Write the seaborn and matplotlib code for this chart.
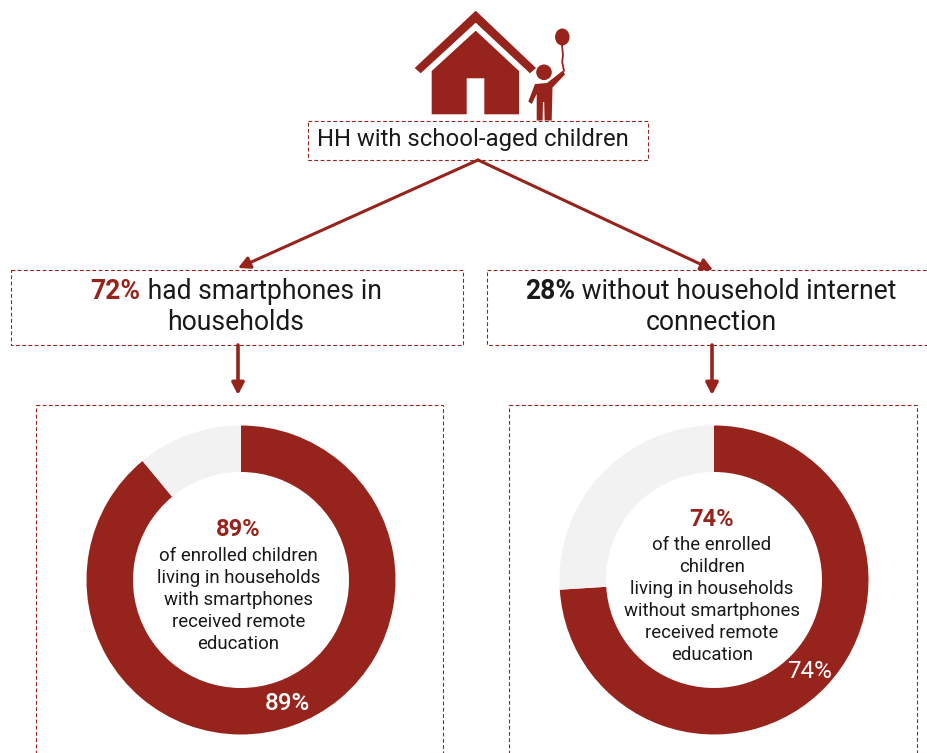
import matplotlib
matplotlib.use("Agg")
import matplotlib.pyplot as plt
from matplotlib.patches import Polygon, Circle, Ellipse, Rectangle, FancyArrowPatch
import seaborn as sns

# Survey figures
smartphone_share = 72
no_internet_share = 28
with_phone_remote = [89, 11]
without_phone_remote = [74, 26]

root_label = "HH with school-aged children"
left_branch = ["had smartphones in", "households"]
right_branch = ["without household internet", "connection"]
left_note = ["of enrolled children", "living in households", "with smartphones", "received remote", "education"]
right_note = ["of the enrolled", "children", "living in households", "without smartphones", "received remote", "education"]

sns.set_theme(style="white")
plt.rcParams["font.family"] = ["Roboto", "DejaVu Sans"]

RED = "#97241c"
GREY = "#f2f2f2"
INK = "#1a1a1a"
W, H = 927, 753
donut_colors = sns.color_palette([RED, GREY])

fig = plt.figure(figsize=(W / 100, H / 100), dpi=100, facecolor="white")


def donut(cx, cy, values):
    r = 154.5
    ax = fig.add_axes([(cx - r) / W, 1 - (cy + r) / H, 2 * r / W, 2 * r / H])
    ax.pie(values, colors=donut_colors, startangle=90, counterclock=False, radius=1,
           wedgeprops={"width": 46.5 / r, "linewidth": 0})
    ax.set_xlim(-1, 1)
    ax.set_ylim(-1, 1)
    ax.set_axis_off()


donut(241, 580, with_phone_remote)
donut(714, 580, without_phone_remote)

# Overlay in pixel units for boxes, arrows, icon and text
ov = fig.add_axes([0, 0, 1, 1], zorder=5)
ov.set_xlim(0, W)
ov.set_ylim(H, 0)
ov.set_axis_off()
ov.patch.set_alpha(0)


def dashed_box(x0, y0, x1, y1):
    ov.add_patch(Rectangle((x0, y0), x1 - x0, y1 - y0, fill=False, edgecolor=RED,
                           linewidth=0.8, linestyle=(0, (3.4, 2.2)), clip_on=True))


dashed_box(308, 120.5, 648, 160)
dashed_box(11, 270, 463, 344.5)
dashed_box(487, 270, 940, 344.5)
dashed_box(36, 405, 443, 770)
dashed_box(509, 405, 917, 770)


def arrow(p0, p1, width):
    ov.add_patch(FancyArrowPatch(p0, p1, arrowstyle="-|>,head_length=0.5,head_width=0.26",
                                 mutation_scale=14, color=RED, linewidth=width,
                                 shrinkA=0, shrinkB=0))


arrow((478, 160), (238, 268), 2.2)
arrow((478, 160), (713, 270), 2.2)
arrow((238, 345), (238, 395), 2.6)
arrow((712, 345), (712, 395), 2.6)

# House icon
ov.add_patch(Polygon([(475.7, 10.7), (536, 68), (530, 73.3), (475.7, 22.7), (420.7, 73.3), (414.7, 68)],
                     closed=True, fc=RED, ec="none"))
ov.add_patch(Polygon([(475.7, 30.7), (519, 71), (519, 114.3), (484.3, 114.3), (484.3, 78.3), (466.7, 78.3),
                      (466.7, 114.3), (431.7, 114.3), (431.7, 71)], closed=True, fc=RED, ec="none"))

# Child holding a balloon
ov.add_patch(Circle((544, 72.3), 7.8, fc=RED, ec="none"))
ov.add_patch(Polygon([(535, 84), (547, 83), (563, 70.5), (565, 74.5), (552.5, 87.5), (551.7, 120.5), (544.6, 120.5),
                      (544.2, 102), (543, 102), (542.6, 120.5), (536.7, 120.5), (536.7, 94), (531.7, 104),
                      (528.3, 101.5)], closed=True, fc=RED, ec="none"))
ov.add_patch(Ellipse((562.3, 37), 14.5, 17, fc=RED, ec="none"))
ov.plot([562, 563, 562.2, 564], [45, 55, 62, 71], color=RED, linewidth=1.3)


def mixed_line(cx, y, bold, rest, bold_color, size):
    """Centre a bold lead-in followed by regular text on one baseline."""
    renderer = fig.canvas.get_renderer()
    a = ov.text(0, y, bold, fontsize=size, fontweight="bold", color=bold_color, va="center", ha="left")
    b = ov.text(0, y, " " + rest, fontsize=size, color=INK, va="center", ha="left")
    wa = a.get_window_extent(renderer).width
    wb = b.get_window_extent(renderer).width
    start = cx - (wa + wb) / 2
    a.set_x(start)
    b.set_x(start + wa)


ov.text(473, 139.5, root_label, fontsize=17.2, color=INK, ha="center", va="center")

mixed_line(236, 291, f"{smartphone_share}%", left_branch[0], RED, 19.1)
ov.text(236, 322, left_branch[1], fontsize=19.1, color=INK, ha="center", va="center")
mixed_line(711, 291, f"{no_internet_share}%", right_branch[0], INK, 19.1)
ov.text(711, 322, right_branch[1], fontsize=19.1, color=INK, ha="center", va="center")


def centre_note(cx, y0, first_gap, step, value, lines):
    ov.text(cx, y0 + 1, f"{value}%", fontsize=17, fontweight="bold", color=RED, ha="center", va="center")
    for i, line in enumerate(lines):
        ov.text(cx, y0 + first_gap + i * step, line, fontsize=13.4, color=INK, ha="center", va="center")


centre_note(238.5, 529, 27, 22, with_phone_remote[0], left_note)
centre_note(712, 518, 27, 22, without_phone_remote[0], right_note)

ov.text(287, 703, f"{with_phone_remote[0]}%", fontsize=17.5, fontweight="medium", color="white", ha="center", va="center")
ov.text(810, 671, f"{without_phone_remote[0]}%", fontsize=17.5, color="white", ha="center", va="center")

fig.savefig("out.png", dpi=100, facecolor="white")
